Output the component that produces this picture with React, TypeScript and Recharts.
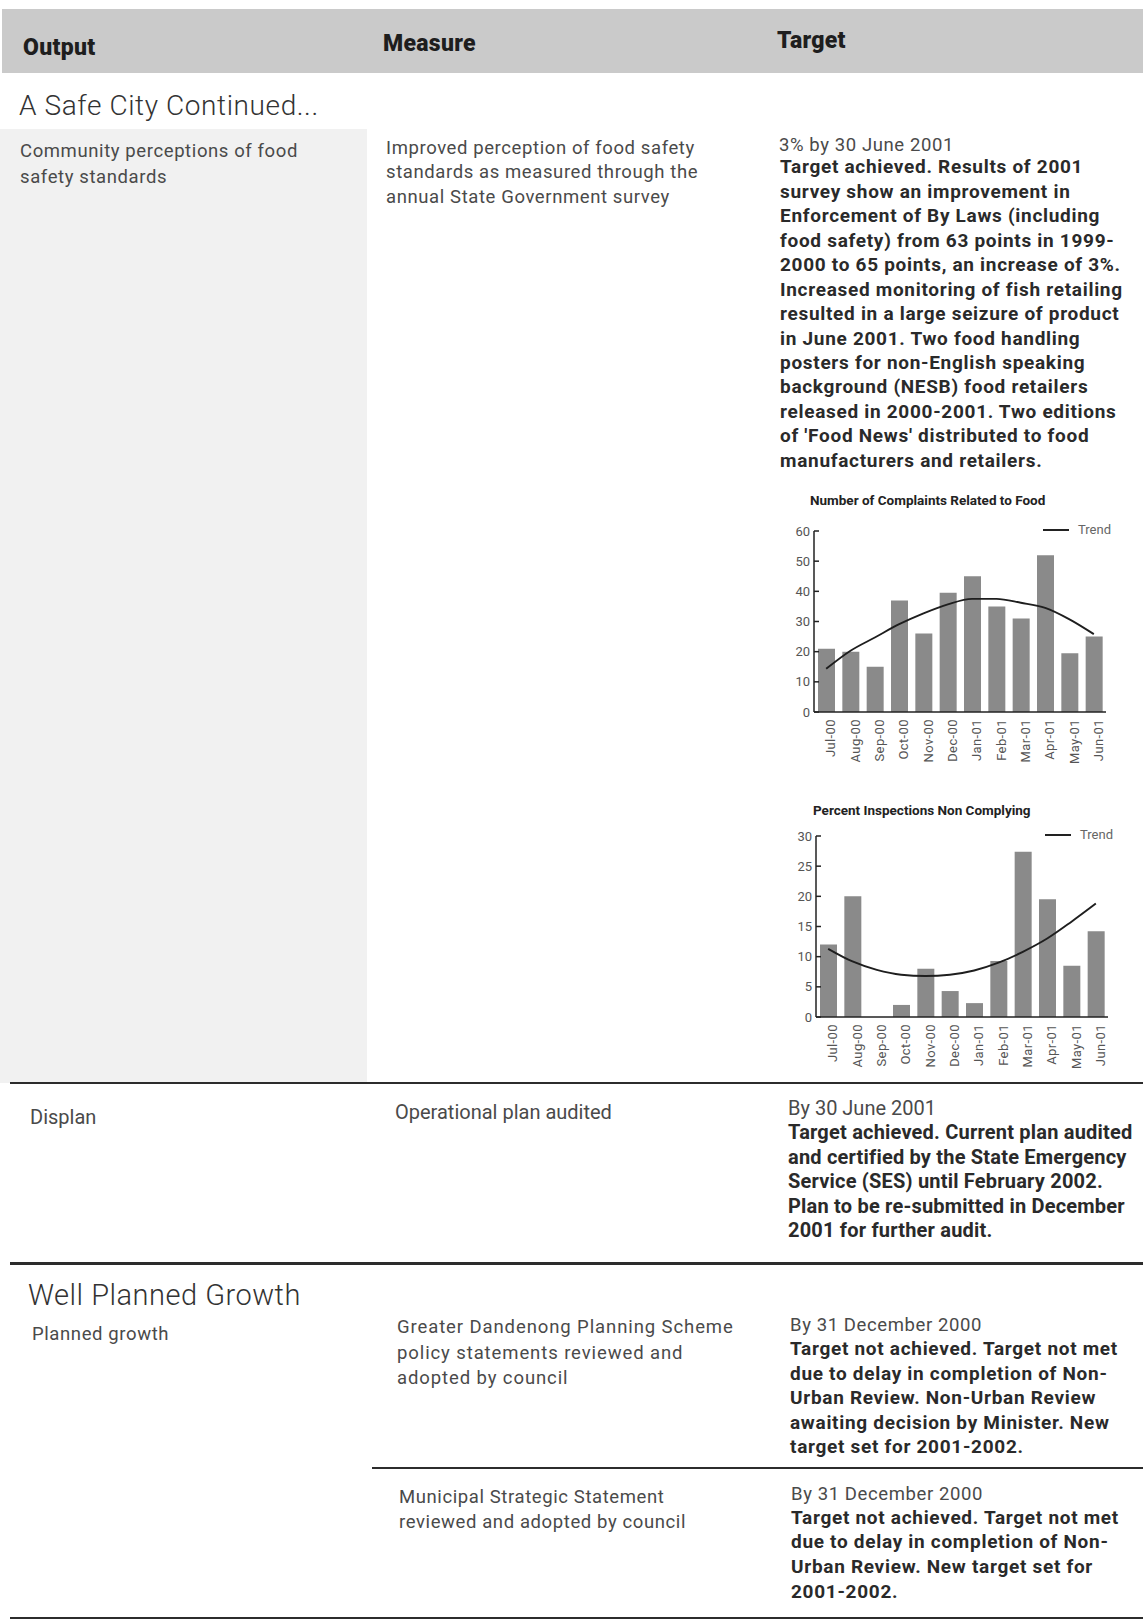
import React from "react";
import {
  ComposedChart,
  Bar,
  Line,
  XAxis,
  YAxis,
  Legend,
} from "recharts";

const months = [
  "Jul-00", "Aug-00", "Sep-00", "Oct-00", "Nov-00", "Dec-00",
  "Jan-01", "Feb-01", "Mar-01", "Apr-01", "May-01", "Jun-01",
];
const complaints = [21, 20, 15, 37, 26, 39.5, 45, 35, 31, 52, 19.5, 25];
const complaintsTrend = [14.3, 20.3, 24.7, 29.1, 32.7, 35.7, 37.5, 37.5, 36.2, 34.5, 30.7, 25.8];
const nonComplying = [12, 20, 0, 2, 8, 4.3, 2.3, 9.3, 27.4, 19.5, 8.5, 14.2];
const nonComplyingTrend = [11.3, 9.2, 7.8, 7.0, 6.8, 7.0, 7.7, 9.0, 10.8, 13.0, 15.8, 18.8];
const complaintTicks = [0, 10, 20, 30, 40, 50, 60];
const percentTicks = [0, 5, 10, 15, 20, 25, 30];
const boundaryTicks = [1, 2, 3, 4, 5, 6, 7, 8, 9, 10, 11];

const complaintRows = months.map((m, i) => ({ month: m, value: complaints[i], trend: complaintsTrend[i] }));
const percentRows = months.map((m, i) => ({ month: m, value: nonComplying[i], trend: nonComplyingTrend[i] }));

const safetyTarget = [
  "Target achieved. Results of 2001",
  "survey show an improvement in",
  "Enforcement of By Laws (including",
  "food safety) from 63 points in 1999-",
  "2000 to 65 points, an increase of 3%.",
  "Increased monitoring of fish retailing",
  "resulted in a large seizure of product",
  "in June 2001. Two food handling",
  "posters for non-English speaking",
  "background (NESB) food retailers",
  "released in 2000-2001. Two editions",
  "of 'Food News' distributed to food",
  "manufacturers and retailers.",
];
const displanTarget = [
  "Target achieved. Current plan audited",
  "and certified by the State Emergency",
  "Service (SES) until February 2002.",
  "Plan to be re-submitted in December",
  "2001 for further audit.",
];
const schemeTarget = [
  "Target not achieved. Target not met",
  "due to delay in completion of Non-",
  "Urban Review. Non-Urban Review",
  "awaiting decision by Minister. New",
  "target set for 2001-2002.",
];
const strategicTarget = [
  "Target not achieved. Target not met",
  "due to delay in completion of Non-",
  "Urban Review. New target set for",
  "2001-2002.",
];

const sans = "Roboto, 'Noto Sans', sans-serif";

type LinesProps = {
  lines: string[];
  x: number;
  y: number;
  step: number;
  style?: React.CSSProperties;
};

function Lines({ lines, x, y, step, style }: LinesProps) {
  return (
    <>
      {lines.map((t, i) => (
        <div
          key={i}
          style={{
            position: "absolute",
            left: x,
            top: y - step / 2 + i * step,
            height: step,
            lineHeight: `${step}px`,
            whiteSpace: "nowrap",
            ...style,
          }}
        >
          {t}
        </div>
      ))}
    </>
  );
}

const regular: React.CSSProperties = { fontFamily: sans, fontSize: 18.5, color: "#4a4a4a", letterSpacing: 0.6 };
const bold: React.CSSProperties = { fontFamily: sans, fontSize: 19, fontWeight: 700, color: "#2a2a2a", letterSpacing: 0.7 };
const narrowReg: React.CSSProperties = { fontFamily: sans, fontSize: 20, color: "#4a4a4a" };
const narrowBold: React.CSSProperties = { fontFamily: sans, fontSize: 20, fontWeight: 700, color: "#2a2a2a", letterSpacing: 0.2 };
const header: React.CSSProperties = { fontFamily: sans, fontSize: 23, fontWeight: 900, color: "#1e1e1e", letterSpacing: 0.3 };

const TrendLegend = () => (
  <div style={{ display: "flex", alignItems: "center", fontFamily: sans, fontSize: 13, color: "#666" }}>
    <span style={{ display: "inline-block", width: 26, borderTop: "2px solid #222", marginRight: 9 }} />
    Trend
  </div>
);

type MiniChartProps = {
  rows: { month: string; value: number; trend: number }[];
  max: number;
  ticks: number[];
};

function MiniChart({ rows, max, ticks }: MiniChartProps) {
  return (
    <ComposedChart
      width={345}
      height={272}
      data={rows}
      margin={{ top: 26, right: 9, bottom: 15, left: 0 }}
      barCategoryGap="30%"
    >
      <XAxis
        xAxisId="edges"
        type="number"
        domain={[0, 12]}
        ticks={boundaryTicks}
        height={0}
        tick={false}
        axisLine={false}
        tickLine={{ stroke: "#222", strokeWidth: 1.5 }}
        tickSize={-4}
      />
      <XAxis
        dataKey="month"
        interval={0}
        height={50}
        angle={-90}
        textAnchor="end"
        tickLine={false}
        axisLine={{ stroke: "#222", strokeWidth: 1.5 }}
        tick={{ fill: "#555", fontSize: 13, fontFamily: sans, letterSpacing: 0.4, dy: -4 }}
        tickMargin={5}
      />
      <YAxis
        width={44}
        domain={[0, max]}
        ticks={ticks}
        interval={0}
        axisLine={{ stroke: "#222", strokeWidth: 1.5 }}
        tickLine={{ stroke: "#222", strokeWidth: 1.5 }}
        tickSize={-5}
        tickMargin={9}
        tick={{ fill: "#555", fontSize: 13, fontFamily: sans }}
      />
      <Bar dataKey="value" fill="#8a8a8a" barSize={17} legendType="none" isAnimationActive={false} />
      <Line
        dataKey="trend"
        type="monotone"
        stroke="#1e1e1e"
        strokeWidth={1.9}
        dot={false}
        isAnimationActive={false}
      />
      <Legend
        layout="vertical"
        verticalAlign="middle"
        align="center"
        content={TrendLegend}
        wrapperStyle={{ top: 17, right: 4, left: "auto", width: "auto" }}
      />
    </ComposedChart>
  );
}

export default function App() {
  return (
    <div
      style={{
        position: "absolute",
        left: 0,
        top: 0,
        width: 1143,
        height: 1622,
        background: "#ffffff",
        overflow: "hidden",
      }}
    >
      {/* header band */}
      <div style={{ position: "absolute", left: 2, top: 9, width: 1141, height: 64, background: "#cacaca" }} />
      <Lines lines={["Output"]} x={23} y={48} step={30} style={header} />
      <Lines lines={["Measure"]} x={383} y={44} step={30} style={header} />
      <Lines lines={["Target"]} x={777} y={41} step={30} style={header} />

      {/* faint left column */}
      <div style={{ position: "absolute", left: 0, top: 129, width: 367, height: 954, background: "#f1f1f1" }} />

      <Lines lines={["A Safe City Continued..."]} x={19} y={106} step={36} style={{ fontFamily: sans, fontWeight: 300, fontSize: 28, color: "#333", letterSpacing: 0.6 }} />
      <Lines lines={["Community perceptions of food", "safety standards"]} x={20} y={152} step={25.5} style={regular} />
      <Lines
        lines={["Improved perception of food safety", "standards as measured through the", "annual State Government survey"]}
        x={386}
        y={148}
        step={24.7}
        style={regular}
      />
      <Lines lines={["3% by 30 June 2001"]} x={779} y={145} step={24.5} style={regular} />
      <Lines lines={safetyTarget} x={780} y={167.5} step={24.47} style={bold} />

      <div style={{ position: "absolute", left: 810, top: 492, fontFamily: sans, fontSize: 13.5, fontWeight: 700, color: "#222", whiteSpace: "nowrap" }}>
        Number of Complaints Related to Food
      </div>
      <div style={{ position: "absolute", left: 770, top: 505 }}>
        <MiniChart rows={complaintRows} max={60} ticks={complaintTicks} />
      </div>

      <div style={{ position: "absolute", left: 813, top: 802, fontFamily: sans, fontSize: 13.5, fontWeight: 700, color: "#222", whiteSpace: "nowrap" }}>
        Percent Inspections Non Complying
      </div>
      <div style={{ position: "absolute", left: 772, top: 810 }}>
        <MiniChart rows={percentRows} max={30} ticks={percentTicks} />
      </div>

      {/* Displan row */}
      <div style={{ position: "absolute", left: 10, top: 1082, width: 1133, height: 2, background: "#2c2c2c" }} />
      <Lines lines={["Displan"]} x={30} y={1117} step={24} style={narrowReg} />
      <Lines lines={["Operational plan audited"]} x={395} y={1112} step={24} style={narrowReg} />
      <Lines lines={["By 30 June 2001"]} x={788} y={1108.5} step={24.4} style={narrowReg} />
      <Lines lines={displanTarget} x={788} y={1132.5} step={24.4} style={narrowBold} />

      {/* Well Planned Growth */}
      <div style={{ position: "absolute", left: 10, top: 1262, width: 1133, height: 3, background: "#2c2c2c" }} />
      <Lines lines={["Well Planned Growth"]} x={28} y={1295} step={36} style={{ fontFamily: sans, fontWeight: 300, fontSize: 29, color: "#333", letterSpacing: 0.5 }} />
      <Lines lines={["Planned growth"]} x={32} y={1334} step={25} style={regular} />
      <Lines
        lines={["Greater Dandenong Planning Scheme", "policy statements reviewed and", "adopted by council"]}
        x={397}
        y={1328}
        step={25.2}
        style={{ ...regular, letterSpacing: 0.9 }}
      />
      <Lines lines={["By 31 December 2000"]} x={790} y={1325.5} step={24.5} style={regular} />
      <Lines lines={schemeTarget} x={790} y={1349.5} step={24.55} style={bold} />

      <div style={{ position: "absolute", left: 372, top: 1467, width: 771, height: 1.5, background: "#2c2c2c" }} />
      <Lines
        lines={["Municipal Strategic Statement", "reviewed and adopted by council"]}
        x={399}
        y={1497}
        step={25}
        style={regular}
      />
      <Lines lines={["By 31 December 2000"]} x={791} y={1494} step={24.5} style={regular} />
      <Lines lines={strategicTarget} x={791} y={1518} step={24.6} style={bold} />

      <div style={{ position: "absolute", left: 10, top: 1617, width: 1133, height: 2, background: "#2c2c2c" }} />
    </div>
  );
}
